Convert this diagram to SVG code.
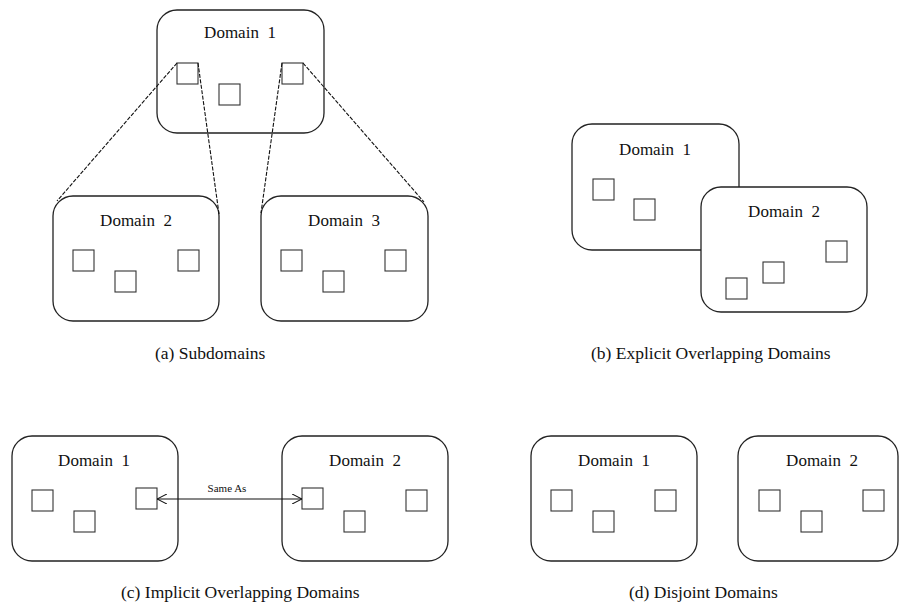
<svg xmlns="http://www.w3.org/2000/svg" width="899" height="606" viewBox="0 0 899 606">
<style>
.dom{fill:#fff;stroke:#222;stroke-width:1.3}
.sq{fill:#fff;stroke:#333;stroke-width:1.1}
.lbl{font-family:"Liberation Serif","Times New Roman",serif;font-size:17px;fill:#111;text-anchor:middle;white-space:pre}
.cap{font-family:"Liberation Serif","Times New Roman",serif;font-size:17.5px;fill:#111;white-space:pre}
.small{font-family:"Liberation Serif","Times New Roman",serif;font-size:11px;fill:#111;text-anchor:middle}
.dash{stroke:#111;stroke-width:1.1;stroke-dasharray:4 1.5;fill:none}
.arr{stroke:#111;stroke-width:1.1;fill:none}
</style>
<defs>
<marker id="ah" viewBox="0 0 10 10" refX="10" refY="5" markerWidth="10" markerHeight="10" markerUnits="userSpaceOnUse" orient="auto-start-reverse">
<path d="M0,0 L10,5 L0,10" fill="none" stroke="#111" stroke-width="1.1"/>
</marker>
</defs>
<g id="a-domain1">
<rect class="dom" x="157" y="10" width="167" height="123" rx="20"/>
<text class="lbl" x="240" y="38">Domain  1</text>
<rect class="sq" x="177" y="63" width="21" height="21"/>
<rect class="sq" x="219" y="84" width="21" height="21"/>
<rect class="sq" x="282" y="63" width="21" height="21"/>
</g>
<g id="a-domain2">
<rect class="dom" x="53" y="196" width="166" height="125" rx="20"/>
<text class="lbl" x="136" y="226">Domain  2</text>
<rect class="sq" x="73" y="250" width="21" height="21"/>
<rect class="sq" x="115" y="271" width="21" height="21"/>
<rect class="sq" x="178" y="250" width="21" height="21"/>
</g>
<g id="a-domain3">
<rect class="dom" x="261" y="196" width="167" height="125" rx="20"/>
<text class="lbl" x="344" y="226">Domain  3</text>
<rect class="sq" x="281" y="250" width="21" height="21"/>
<rect class="sq" x="323" y="271" width="21" height="21"/>
<rect class="sq" x="385" y="250" width="21" height="21"/>
</g>
<g id="connectors">
<line class="dash" x1="177" y1="63" x2="57" y2="201"/>
<line class="dash" x1="198" y1="63" x2="219" y2="214"/>
<line class="dash" x1="282" y1="63" x2="261" y2="213"/>
<line class="dash" x1="303" y1="63" x2="424" y2="202"/>
</g>
<text class="cap" x="155" y="359">(a) Subdomains</text>
<g id="b-domain1">
<rect class="dom" x="572" y="124" width="167" height="126" rx="20"/>
<text class="lbl" x="655" y="155">Domain  1</text>
<rect class="sq" x="593" y="179" width="21" height="21"/>
<rect class="sq" x="634" y="199" width="21" height="21"/>
</g>
<g id="b-domain2">
<rect class="dom" x="701" y="187" width="166" height="125" rx="20"/>
<text class="lbl" x="784" y="217">Domain  2</text>
<rect class="sq" x="826" y="241" width="21" height="21"/>
<rect class="sq" x="763" y="262" width="21" height="21"/>
<rect class="sq" x="726" y="278" width="21" height="21"/>
</g>
<text class="cap" x="591" y="359">(b) Explicit Overlapping Domains</text>
<g id="c-domain1">
<rect class="dom" x="12" y="436" width="166" height="125" rx="20"/>
<text class="lbl" x="94" y="466">Domain  1</text>
<rect class="sq" x="32" y="490" width="21" height="21"/>
<rect class="sq" x="74" y="511" width="21" height="21"/>
<rect class="sq" x="136" y="488" width="21" height="21"/>
</g>
<g id="c-domain2">
<rect class="dom" x="282" y="436" width="166" height="125" rx="20"/>
<text class="lbl" x="365" y="466">Domain  2</text>
<rect class="sq" x="302" y="488" width="21" height="21"/>
<rect class="sq" x="344" y="511" width="21" height="21"/>
<rect class="sq" x="406" y="490" width="21" height="21"/>
</g>
<g id="c-connector">
<line class="arr" x1="157" y1="499" x2="302" y2="499" marker-start="url(#ah)" marker-end="url(#ah)"/>
<text class="small" x="227" y="492">Same As</text>
</g>
<text class="cap" x="121" y="598">(c) Implicit Overlapping Domains</text>
<g id="d-domain1">
<rect class="dom" x="531" y="436" width="166" height="125" rx="20"/>
<text class="lbl" x="614" y="466">Domain  1</text>
<rect class="sq" x="551" y="490" width="21" height="21"/>
<rect class="sq" x="593" y="511" width="21" height="21"/>
<rect class="sq" x="655" y="490" width="21" height="21"/>
</g>
<g id="d-domain2">
<rect class="dom" x="738" y="436" width="160" height="125" rx="20"/>
<text class="lbl" x="822" y="466">Domain  2</text>
<rect class="sq" x="759" y="490" width="21" height="21"/>
<rect class="sq" x="801" y="511" width="21" height="21"/>
<rect class="sq" x="863" y="490" width="21" height="21"/>
</g>
<text class="cap" x="629" y="598">(d) Disjoint Domains</text>
</svg>
